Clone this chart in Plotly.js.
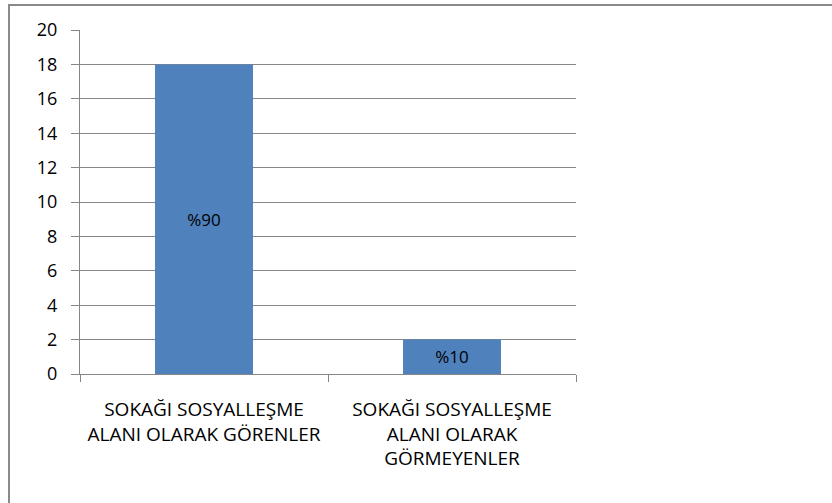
<!DOCTYPE html>
<html><head><meta charset="utf-8">
<script src="https://cdn.plot.ly/plotly-3.0.1.min.js"></script>
<style>
html,body{margin:0;padding:0;width:832px;height:503px;overflow:hidden;background:#fff;}
#chart{position:absolute;left:0;top:0;width:832px;height:503px;}
#frame{position:absolute;left:8px;top:4px;width:900px;height:600px;border:2px solid #8a8a8a;pointer-events:none;}
</style></head>
<body>
<div id="chart"></div>
<div id="frame"></div>
<script>
const categories = ["SOKAĞI SOSYALLEŞME<br>ALANI OLARAK GÖRENLER", "SOKAĞI SOSYALLEŞME<br>ALANI OLARAK<br>GÖRMEYENLER"];
const values = [18, 2];
const barLabels = ["%90", "%10"];
const yTicks = [0, 2, 4, 6, 8, 10, 12, 14, 16, 18, 20];

const fontFam = '"Open Sans", sans-serif';
Plotly.newPlot('chart', [{
  type: 'bar', x: categories, y: values, text: barLabels,
  textposition: 'inside', insidetextanchor: 'middle', textangle: 0,
  textfont: {family: fontFam, size: 17, color: '#000'},
  marker: {color: '#4F81BD'}, hoverinfo: 'none'
}], {
  width: 832, height: 503,
  margin: {l: 80, r: 256, t: 30, b: 129},
  paper_bgcolor: '#fff', plot_bgcolor: '#fff',
  bargap: 0.605,
  showlegend: false,
  xaxis: {
    type: 'category', tickson: 'boundaries', ticks: 'outside', ticklen: 7, tickangle: 0,
    tickcolor: '#868686', showline: true, linecolor: '#868686', showgrid: false,
    tickfont: {family: fontFam, size: 19, color: '#000'}, ticklabelstandoff: 18
  },
  yaxis: {
    range: [0, 20], tickvals: yTicks, ticks: 'outside', ticklen: 8, tickcolor: '#868686',
    showline: true, linecolor: '#868686', showgrid: true, gridcolor: '#868686',
    zeroline: false, tickfont: {family: fontFam, size: 18, color: '#000'}, ticklabelstandoff: 10
  }
}, {staticPlot: true});
</script>
</body></html>
